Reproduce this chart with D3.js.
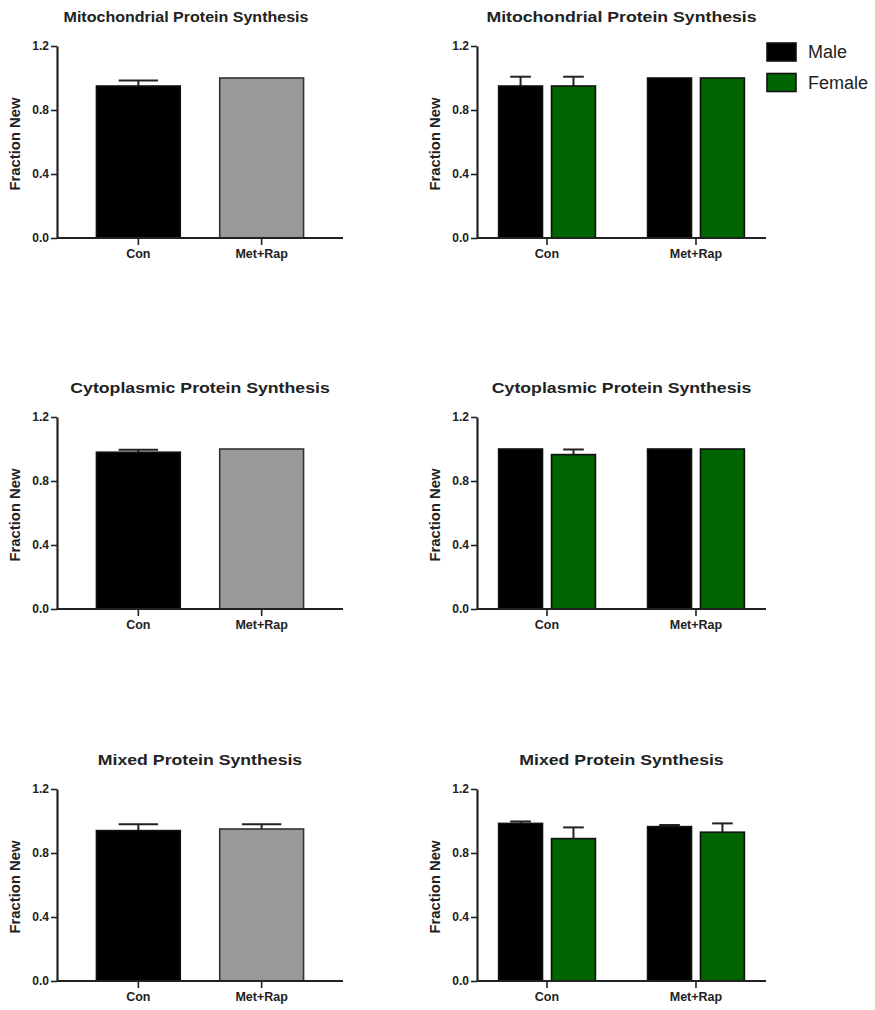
<!DOCTYPE html>
<html>
<head>
<meta charset="utf-8">
<script src="https://cdn.jsdelivr.net/npm/d3@7"></script>
<style>
  body { margin: 0; background: #fff; }
  text { font-family: "Liberation Sans", Arial, sans-serif; fill: #222; }
</style>
</head>
<body>
<svg id="chart" width="875" height="1010"></svg>
<script>
const groups = ["Con", "Met+Rap"];
const sexes = ["Male", "Female"];
const panelTitles = ["Mitochondrial Protein Synthesis", "Cytoplasmic Protein Synthesis", "Mixed Protein Synthesis"];
const yTicks = [0, 0.4, 0.8, 1.2];

// pooled (left column)
const pooledMean = [[0.95, 1.0], [0.98, 1.0], [0.94, 0.95]];
const pooledErr = [[0.035, 0], [0.015, 0], [0.04, 0.03]];

// by sex (right column)
const maleMean = [[0.95, 1.0], [1.0, 1.0], [0.985, 0.965]];
const maleErr = [[0.058, 0], [0, 0], [0.012, 0.01]];
const femaleMean = [[0.95, 1.0], [0.965, 1.0], [0.89, 0.93]];
const femaleErr = [[0.058, 0], [0.032, 0], [0.07, 0.055]];

const groupColors = ["#000000", "#999999"];
const sexColors = ["#000000", "#006400"];

let svg = d3.select("#chart");

let rowTops = [46, 417, 789];
let plotH = 192;
let cols = [{x0: 57, x1: 343}, {x0: 477, x1: 766}];

let drawAxes = function(g, x, y, title, x0, x1, narrowTitle) {
	// y axis
	let yAxis = d3.axisLeft(y).tickValues(yTicks).tickFormat(d3.format(".1f")).tickSize(6).tickSizeOuter(0);
	let ya = g.append("g").attr("transform", "translate(" + x0 + ",0)").call(yAxis);
	ya.select(".domain").attr("stroke", "#222").attr("stroke-width", 2.2);
	ya.selectAll(".tick line").attr("stroke", "#222").attr("stroke-width", 1.6);
	ya.selectAll(".tick text").attr("x", -8).style("font-size", "12px").style("font-weight", "bold").attr("fill", "#222");

	// x axis
	let xa = g.append("g").attr("transform", "translate(0," + y(0) + ")");
	xa.append("line").attr("x1", x0).attr("x2", x1).attr("stroke", "#222").attr("stroke-width", 2.2);
	groups.forEach(function(grp) {
		let cx = x(grp) + x.bandwidth() / 2;
		xa.append("line").attr("x1", cx).attr("x2", cx).attr("y1", 0).attr("y2", 7)
			.attr("stroke", "#222").attr("stroke-width", 1.6);
		xa.append("text").attr("x", cx).attr("y", 20).attr("text-anchor", "middle")
			.style("font-size", "12.5px").style("font-weight", "bold").text(grp);
	});

	// title (source figure is slightly stretched horizontally)
	let tx = (x0 + x1) / 2 - (narrowTitle ? 14 : 0);
	g.append("text")
		.attr("transform", "translate(" + tx + "," + (y(1.2) - 24) + ") scale(" + (narrowTitle ? 1.07 : 1.18) + ",1)")
		.attr("text-anchor", "middle")
		.style("font-size", "15px").style("font-weight", "bold").text(title);
	g.append("text")
		.attr("transform", "translate(" + (x0 - 37) + "," + ((y(0) + y(1.2)) / 2 + 2) + ") rotate(-90)")
		.attr("text-anchor", "middle")
		.style("font-size", "14.8px").style("font-weight", "bold").text("Fraction New");
}

let drawBar = function(g, bx, bw, y, mean, err, fill) {
	if (err > 0) {
		let cx = bx + bw / 2;
		let capW = bw * 0.47;
		g.append("line").attr("x1", cx).attr("x2", cx).attr("y1", y(mean)).attr("y2", y(mean + err))
			.attr("stroke", "#222").attr("stroke-width", 2);
		g.append("line").attr("x1", cx - capW / 2).attr("x2", cx + capW / 2)
			.attr("y1", y(mean + err)).attr("y2", y(mean + err))
			.attr("stroke", "#222").attr("stroke-width", 2);
	}
	g.append("rect").attr("x", bx).attr("y", y(mean)).attr("width", bw).attr("height", y(0) - y(mean))
		.attr("fill", fill).attr("stroke", fill === "#999999" ? "#333" : "#111").attr("stroke-width", 1.6);
}

panelTitles.forEach(function(title, r) {
	let y = d3.scaleLinear().domain([0, 1.2]).range([rowTops[r] + plotH, rowTops[r]]);

	// left: pooled
	let g1 = svg.append("g");
	let xL = d3.scaleBand().domain(groups).range([cols[0].x0, cols[0].x1]).paddingInner(0.32).paddingOuter(0.32);
	groups.forEach(function(grp, i) {
		drawBar(g1, xL(grp), xL.bandwidth(), y, pooledMean[r][i], pooledErr[r][i], groupColors[i]);
	});
	drawAxes(g1, xL, y, title, cols[0].x0, cols[0].x1, r === 0);

	// right: by sex
	let g2 = svg.append("g");
	let xR = d3.scaleBand().domain(groups).range([cols[1].x0, cols[1].x1]).paddingInner(0.35).paddingOuter(0.145);
	let xSub = d3.scaleBand().domain(sexes).range([0, xR.bandwidth()]).paddingInner(0.17).paddingOuter(0);
	groups.forEach(function(grp, i) {
		let vals = [[maleMean[r][i], maleErr[r][i]], [femaleMean[r][i], femaleErr[r][i]]];
		sexes.forEach(function(s, j) {
			drawBar(g2, xR(grp) + xSub(s), xSub.bandwidth(), y, vals[j][0], vals[j][1], sexColors[j]);
		});
	});
	drawAxes(g2, xR, y, title, cols[1].x0, cols[1].x1, false);
});

// legend
let legend = svg.append("g").attr("transform", "translate(767,43)");
sexes.forEach(function(s, j) {
	let row = legend.append("g").attr("transform", "translate(0," + (j * 30.5) + ")");
	row.append("rect").attr("width", 29).attr("height", 18).attr("fill", sexColors[j])
		.attr("stroke", "#111").attr("stroke-width", 1.6);
	row.append("text").attr("x", 41).attr("y", 9).attr("dy", "0.36em")
		.style("font-size", "18px").text(s);
});
</script>
</body>
</html>
